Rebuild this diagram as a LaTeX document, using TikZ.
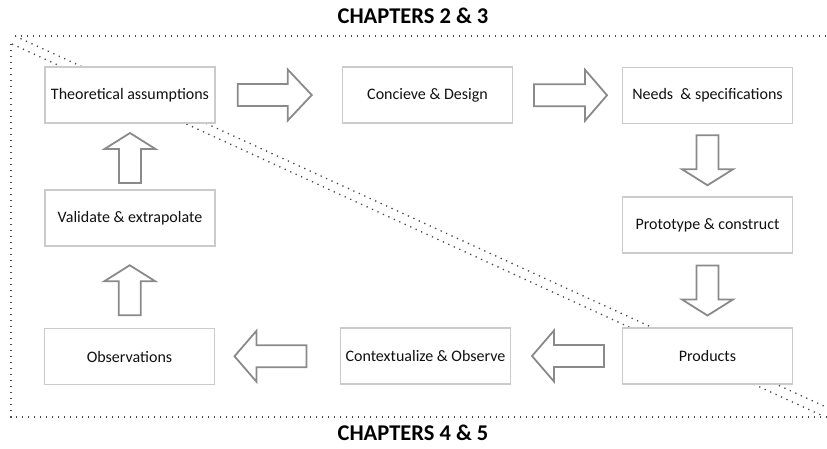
\documentclass[tikz,border=0pt]{standalone}
\usepackage{fontspec}
\setmainfont{Carlito}
\usetikzlibrary{calc}

\definecolor{boxline}{HTML}{CBCBCB}
\definecolor{arrowline}{HTML}{8A8A8A}
\definecolor{dotline}{HTML}{4A4A4A}
\definecolor{txt}{HTML}{111111}

\tikzset{
  stepbox/.style={draw=boxline, line width=1.4pt, fill=white, minimum width=170pt,
    minimum height=56pt, inner sep=0pt, text=txt, font=\fontsize{16}{19}\selectfont},
  chaptitle/.style={text=black, font=\fontsize{22.5}{26}\selectfont\bfseries, inner sep=0pt},
  dotborder/.style={draw=dotline, line width=1.3pt, dash pattern=on 1.3pt off 4.7pt},
  blockarrow/.style={draw=arrowline, line width=1.8pt, fill=white, line join=miter},
  % block arrow centred on its position, pointing along local +x
  % args: total length / head length
  pics/barrow/.style args={#1/#2}{code={
    \path[blockarrow] (-#1/2,-11) -- (#1/2-#2,-11) -- (#1/2-#2,-25.5) -- (#1/2,0)
      -- (#1/2-#2,25.5) -- (#1/2-#2,11) -- (-#1/2,11) -- cycle;
  }}
}

\begin{document}
\begin{tikzpicture}[x=1pt, y=-1pt]
\useasboundingbox (0,0) rectangle (827,448);

% dotted chapter regions
\draw[dotborder] (15,36) -- (827,36);
\draw[dotborder] (15,36) -- (826,407);
\draw[dotborder] (12,44) -- (823,416);
\draw[dotborder] (11,44) -- (11,417) -- (827,417);

% chapter headings
\node[chaptitle] (ch23) at (413,16) {CHAPTERS 2 \& 3};
\node[chaptitle] (ch45) at (413,433) {CHAPTERS 4 \& 5};

% process steps
\node[stepbox] (theo) at (130,95)   {Theoretical assumptions};
\node[stepbox] (conc) at (427.5,95) {Concieve \& Design};
\node[stepbox] (need) at (707.5,95.5) {Needs\ \ \& specifications};
\node[stepbox] (prot) at (707.5,225) {Prototype \& construct};
\node[stepbox] (prod) at (707.5,356) {Products};
\node[stepbox] (cont) at (425.5,356) {Contextualize \& Observe};
\node[stepbox] (obsv) at (129.5,356.5) {Observations};
\node[stepbox] (vali) at (130,218)  {Validate \& extrapolate};

% block arrows between the steps
\pic (a1) [xshift=-4pt] at ($(theo.east)!.5!(conc.west)$) {barrow=74/24};
\pic (a2) [xshift=3pt] at ($(conc.east)!.5!(need.west)$) {barrow=73/22};
\pic (a3) [rotate=-90] at ($(need.south)!.5!(prot.north)$) {barrow=50/16};
\pic (a4) [rotate=-90] at ($(prot.south)!.5!(prod.north)$) {barrow=50/16};
\pic (a5) [rotate=180, xshift=-1.5pt] at ($(prod.west)!.5!(cont.east)$) {barrow=72/22};
\pic (a6) [rotate=180, xshift=7pt] at ($(cont.west)!.5!(obsv.east)$) {barrow=72/22};
\pic (a7) [rotate=90, xshift=-3pt] at ($(obsv.north)!.5!(vali.south)$) {barrow=50/16};
\pic (a8) [rotate=90, xshift=-1.5pt] at ($(vali.north)!.5!(theo.south)$) {barrow=50/16};
\end{tikzpicture}
\end{document}
